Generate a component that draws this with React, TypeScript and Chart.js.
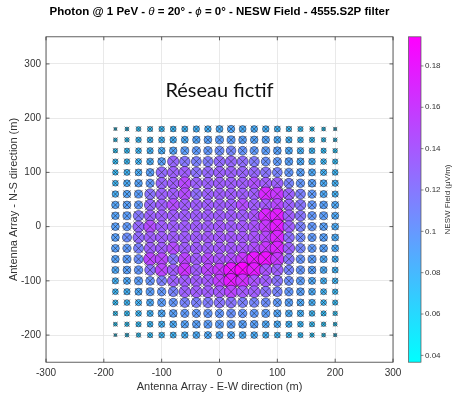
import React, { useEffect, useRef } from 'react';
import { Chart, registerables } from 'chart.js';

Chart.register(...registerables);

// ---- data ----
const eastWest = [-180, -160, -140, -120, -100, -80, -60, -40, -20, 0, 20, 40, 60, 80, 100, 120, 140, 160, 180, 200];
const northSouth = [180, 160, 140, 120, 100, 80, 60, 40, 20, 0, -20, -40, -60, -80, -100, -120, -140, -160, -180, -200];

// NESW field (µV/m), one array per N-S row (top row first), columns follow eastWest
const fieldByRow: number[][] = [
  [0.058, 0.063, 0.069, 0.072, 0.074, 0.076, 0.078, 0.080, 0.082, 0.085, 0.089, 0.085, 0.084, 0.082, 0.078, 0.074, 0.072, 0.067, 0.063, 0.060],
  [0.063, 0.067, 0.074, 0.076, 0.078, 0.082, 0.085, 0.090, 0.093, 0.095, 0.095, 0.093, 0.091, 0.090, 0.085, 0.080, 0.076, 0.072, 0.067, 0.063],
  [0.067, 0.072, 0.076, 0.080, 0.084, 0.090, 0.095, 0.097, 0.099, 0.105, 0.110, 0.101, 0.097, 0.095, 0.093, 0.087, 0.082, 0.076, 0.072, 0.067],
  [0.072, 0.074, 0.078, 0.084, 0.093, 0.130, 0.120, 0.114, 0.117, 0.128, 0.130, 0.126, 0.117, 0.103, 0.097, 0.093, 0.087, 0.082, 0.076, 0.072],
  [0.074, 0.078, 0.084, 0.093, 0.128, 0.134, 0.136, 0.123, 0.130, 0.134, 0.134, 0.132, 0.130, 0.122, 0.112, 0.099, 0.093, 0.087, 0.080, 0.076],
  [0.076, 0.084, 0.091, 0.097, 0.132, 0.136, 0.150, 0.134, 0.134, 0.136, 0.136, 0.137, 0.145, 0.137, 0.134, 0.112, 0.099, 0.093, 0.085, 0.080],
  [0.082, 0.090, 0.095, 0.123, 0.134, 0.137, 0.148, 0.126, 0.134, 0.136, 0.137, 0.136, 0.137, 0.170, 0.160, 0.134, 0.114, 0.097, 0.087, 0.080],
  [0.090, 0.093, 0.097, 0.130, 0.136, 0.148, 0.137, 0.136, 0.136, 0.136, 0.137, 0.148, 0.137, 0.139, 0.150, 0.134, 0.122, 0.099, 0.093, 0.087],
  [0.091, 0.095, 0.120, 0.134, 0.136, 0.137, 0.136, 0.136, 0.137, 0.137, 0.137, 0.137, 0.142, 0.172, 0.176, 0.137, 0.122, 0.099, 0.095, 0.087],
  [0.093, 0.097, 0.130, 0.148, 0.137, 0.136, 0.137, 0.137, 0.137, 0.139, 0.137, 0.139, 0.142, 0.160, 0.178, 0.137, 0.114, 0.099, 0.093, 0.085],
  [0.093, 0.105, 0.128, 0.136, 0.137, 0.137, 0.137, 0.137, 0.139, 0.139, 0.139, 0.140, 0.142, 0.150, 0.172, 0.126, 0.108, 0.097, 0.093, 0.085],
  [0.093, 0.097, 0.114, 0.136, 0.137, 0.148, 0.137, 0.137, 0.137, 0.139, 0.139, 0.142, 0.146, 0.160, 0.172, 0.134, 0.110, 0.097, 0.093, 0.085],
  [0.091, 0.095, 0.105, 0.152, 0.150, 0.122, 0.152, 0.137, 0.148, 0.142, 0.146, 0.160, 0.180, 0.183, 0.160, 0.122, 0.101, 0.095, 0.087, 0.080],
  [0.087, 0.093, 0.099, 0.123, 0.152, 0.137, 0.163, 0.137, 0.152, 0.160, 0.180, 0.192, 0.178, 0.142, 0.136, 0.112, 0.099, 0.093, 0.085, 0.078],
  [0.080, 0.087, 0.095, 0.101, 0.114, 0.134, 0.137, 0.137, 0.139, 0.156, 0.178, 0.165, 0.142, 0.136, 0.123, 0.105, 0.095, 0.087, 0.080, 0.076],
  [0.076, 0.080, 0.087, 0.095, 0.099, 0.112, 0.134, 0.136, 0.137, 0.139, 0.152, 0.139, 0.136, 0.123, 0.112, 0.099, 0.093, 0.085, 0.078, 0.074],
  [0.072, 0.076, 0.080, 0.087, 0.095, 0.099, 0.112, 0.114, 0.117, 0.122, 0.122, 0.114, 0.110, 0.105, 0.097, 0.093, 0.087, 0.082, 0.076, 0.072],
  [0.067, 0.072, 0.076, 0.080, 0.087, 0.093, 0.097, 0.097, 0.099, 0.099, 0.103, 0.099, 0.097, 0.095, 0.089, 0.085, 0.082, 0.076, 0.072, 0.067],
  [0.063, 0.067, 0.072, 0.076, 0.080, 0.085, 0.091, 0.093, 0.095, 0.095, 0.095, 0.093, 0.093, 0.087, 0.084, 0.080, 0.076, 0.072, 0.067, 0.063],
  [0.058, 0.063, 0.067, 0.072, 0.076, 0.078, 0.082, 0.085, 0.087, 0.087, 0.087, 0.085, 0.084, 0.080, 0.076, 0.074, 0.072, 0.067, 0.063, 0.060],
];

const xTicks = [-300, -200, -100, 0, 100, 200, 300];
const yTicks = [-200, -100, 0, 100, 200, 300];
const colorTicks = [0.04, 0.06, 0.08, 0.1, 0.12, 0.14, 0.16, 0.18];
const colorTickLabels = ['0.04', '0.06', '0.08', '0.1', '0.12', '0.14', '0.16', '0.18'];
const colorMin = 0.0367;
const colorMax = 0.1941;

const titleParts: { text: string; italic: boolean }[] = [
  { text: 'Photon @ 1 PeV - ', italic: false },
  { text: 'θ', italic: true },
  { text: ' = 20° - ', italic: false },
  { text: 'ϕ', italic: true },
  { text: ' = 0° - NESW Field - 4555.S2P filter', italic: false },
];
const xTitle = 'Antenna Array - E-W direction (m)';
const yTitle = 'Antenna Array - N-S direction (m)';
const colorbarTitle = 'NESW Field (μV/m)';
const annotationText = 'Réseau fictif';
const annotationX = 0;
const annotationY = 250;

// ---- styling helpers ----
const FONT = '"Liberation Sans", Arial, Helvetica, sans-serif';
function coolColor(v: number): string {
  let t = (v - colorMin) / (colorMax - colorMin);
  t = Math.max(0, Math.min(1, t));
  return `rgb(${Math.round(255 * t)},${Math.round(255 * (1 - t))},255)`;
}
function markerDiameter(v: number): number {
  return Math.max(2.5, 48.2 * Math.sqrt(Math.max(0, v - 0.045)) - 2.7);
}
function markerRadius(v: number): number {
  return markerDiameter(v) / 2;
}
function crossRadius(v: number): number {
  const d = markerDiameter(v);
  return (0.72 * d + 2) / 1.414;
}

const points: { x: number; y: number; v: number }[] = [];
northSouth.forEach((ny, i) => {
  eastWest.forEach((ex, j) => {
    points.push({ x: ex, y: ny, v: fieldByRow[i][j] });
  });
});

const decorPlugin = {
  id: 'decor',
  afterDraw(chart: any) {
    const { ctx, chartArea: a, scales } = chart;
    ctx.save();
    // box
    ctx.strokeStyle = '#3a3a3a';
    ctx.lineWidth = 0.8;
    ctx.strokeRect(a.left, a.top, a.right - a.left, a.bottom - a.top);
    // inward ticks
    ctx.beginPath();
    const tl = 3.5;
    xTicks.forEach((t) => {
      const px = scales.x.getPixelForValue(t);
      ctx.moveTo(px, a.bottom); ctx.lineTo(px, a.bottom - tl);
      ctx.moveTo(px, a.top); ctx.lineTo(px, a.top + tl);
    });
    yTicks.forEach((t) => {
      const py = scales.y.getPixelForValue(t);
      ctx.moveTo(a.left, py); ctx.lineTo(a.left + tl, py);
      ctx.moveTo(a.right, py); ctx.lineTo(a.right - tl, py);
    });
    ctx.stroke();

    // annotation
    ctx.fillStyle = '#111';
    ctx.font = '20px Lato, "Open Sans", sans-serif';
    ctx.textAlign = 'center';
    ctx.textBaseline = 'middle';
    ctx.fillText(annotationText, scales.x.getPixelForValue(annotationX), scales.y.getPixelForValue(annotationY));

    // colorbar
    const cb = scales.cb;
    const top = cb.getPixelForValue(colorMax);
    const bottom = cb.getPixelForValue(colorMin);
    const left = cb.left + 15.5;
    const w = 12.5;
    const grad = ctx.createLinearGradient(0, bottom, 0, top);
    grad.addColorStop(0, 'rgb(0,255,255)');
    grad.addColorStop(1, 'rgb(255,0,255)');
    ctx.fillStyle = grad;
    ctx.fillRect(left, top, w, bottom - top);
    ctx.strokeStyle = '#555';
    ctx.lineWidth = 0.7;
    ctx.strokeRect(left, top, w, bottom - top);
    ctx.beginPath();
    colorTicks.forEach((t) => {
      const py = cb.getPixelForValue(t);
      ctx.moveTo(left + w, py); ctx.lineTo(left + w + 2.5, py);
    });
    ctx.stroke();
    // colorbar title
    ctx.save();
    ctx.translate(448, (top + bottom) / 2);
    ctx.rotate(-Math.PI / 2);
    ctx.fillStyle = '#333';
    ctx.font = `8px ${FONT}`;
    ctx.textAlign = 'center';
    ctx.textBaseline = 'middle';
    ctx.fillText(colorbarTitle, 0, 0);
    ctx.restore();

    // title with italic greek letters
    const size = 11.5;
    const fonts = titleParts.map((p) => (p.italic ? `italic ${size}px ${FONT}` : `bold ${size}px ${FONT}`));
    let total = 0;
    const widths = titleParts.map((p, i) => {
      ctx.font = fonts[i];
      const wd = ctx.measureText(p.text).width;
      total += wd;
      return wd;
    });
    let x = (a.left + a.right) / 2 - total / 2;
    ctx.fillStyle = '#000';
    ctx.textAlign = 'left';
    ctx.textBaseline = 'middle';
    titleParts.forEach((p, i) => {
      ctx.font = fonts[i];
      ctx.fillText(p.text, x, 11.5);
      x += widths[i];
    });
    ctx.restore();
  },
};

export default function App() {
  const ref = useRef<HTMLCanvasElement | null>(null);
  useEffect(() => {
    document.body.style.margin = '0';
    const canvas = ref.current!;
    const chart = new Chart(canvas, {
      type: 'scatter',
      data: {
        datasets: [
          {
            label: 'cross',
            data: points as any,
            order: 0,
            pointStyle: 'crossRot',
            pointRadius: (c: any) => crossRadius(points[c.dataIndex]?.v ?? 0.07),
            borderColor: 'rgba(40,40,40,0.85)',
            backgroundColor: 'rgba(0,0,0,0)',
            pointBorderWidth: 0.7,
          } as any,
          {
            label: 'field',
            data: points as any,
            order: 1,
            pointStyle: 'circle',
            pointRadius: (c: any) => markerRadius(points[c.dataIndex]?.v ?? 0.07),
            pointBackgroundColor: (c: any) => coolColor(points[c.dataIndex]?.v ?? 0.07),
            pointBorderColor: 'rgba(10,10,30,0.7)',
            pointBorderWidth: 0.7,
          } as any,
        ],
      },
      options: {
        animation: false,
        responsive: false,
        devicePixelRatio: 1,
        events: [],
        layout: { padding: { top: 21, left: 0, right: 0, bottom: 0 } },
        plugins: { legend: { display: false }, tooltip: { enabled: false }, title: { display: false } },
        scales: {
          x: {
            type: 'linear',
            position: 'bottom',
            min: -300,
            max: 300,
            afterBuildTicks: (s: any) => { s.ticks = xTicks.map((value) => ({ value })); },
            afterFit: (s: any) => { s.height = 31; },
            grid: { color: '#e3e3e3', drawTicks: false, lineWidth: 0.8 },
            border: { display: false },
            ticks: { color: '#333', font: { size: 10, family: FONT }, padding: 5, maxRotation: 0 },
            title: { display: true, text: xTitle, color: '#333', font: { size: 11, family: FONT }, padding: { top: 0, bottom: 0 } },
          },
          y: {
            type: 'linear',
            position: 'left',
            min: -250,
            max: 350,
            afterBuildTicks: (s: any) => { s.ticks = yTicks.map((value) => ({ value })); },
            afterFit: (s: any) => { s.width = 46; },
            grid: { color: '#e3e3e3', drawTicks: false, lineWidth: 0.8 },
            border: { display: false },
            ticks: { color: '#333', font: { size: 10, family: FONT }, padding: 5 },
            title: { display: true, text: yTitle, color: '#333', font: { size: 11, family: FONT }, padding: { top: 7, bottom: 0 } },
          },
          cb: {
            type: 'linear',
            axis: 'y',
            position: 'right',
            min: colorMin,
            max: colorMax,
            afterBuildTicks: (s: any) => { s.ticks = colorTicks.map((value) => ({ value })); },
            afterFit: (s: any) => { s.width = 62; },
            grid: { display: false, drawTicks: false },
            border: { display: false },
            ticks: {
              color: '#333',
              font: { size: 8, family: FONT },
              padding: 32,
              callback: (_v: any, i: number) => colorTickLabels[i],
            },
          },
        },
      } as any,
      plugins: [decorPlugin],
    });
    return () => chart.destroy();
  }, []);
  return <canvas ref={ref} width={455} height={399} style={{ display: 'block', width: 455, height: 399 }} />;
}
